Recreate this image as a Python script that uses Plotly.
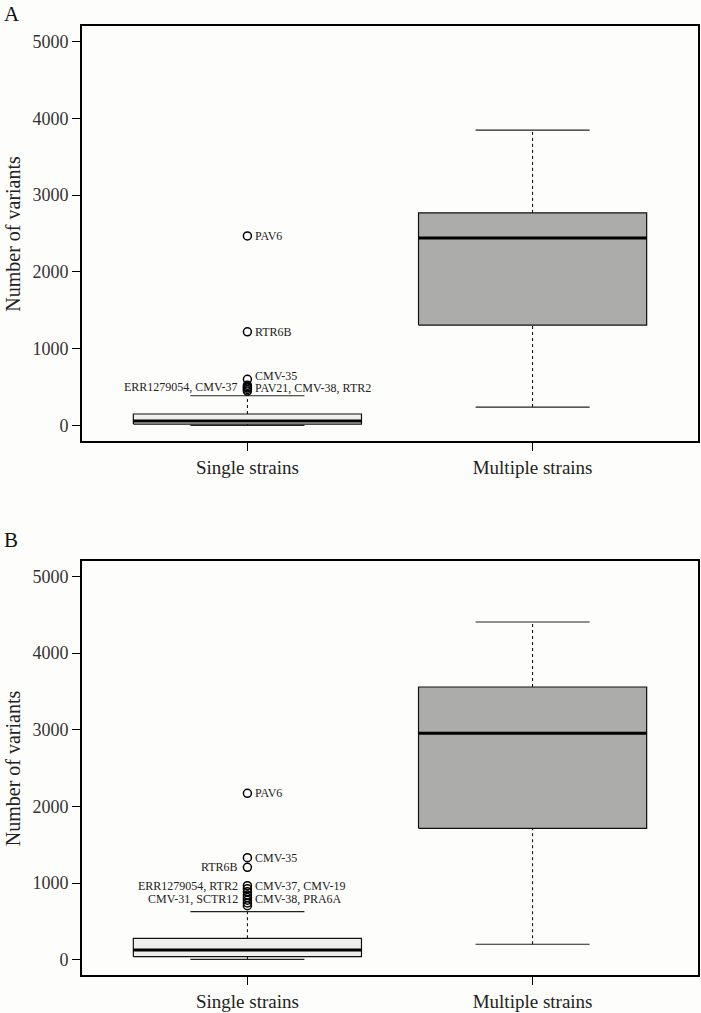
import plotly.graph_objects as go
from plotly.subplots import make_subplots

# ---------------- data ----------------
groups = ["Single strains", "Multiple strains"]
y_ticks = [0, 1000, 2000, 3000, 4000, 5000]

# Panel A box statistics (Single, Multiple)
A_lower = [3, 242]
A_q1 = [20, 1308]
A_median = [60, 2443]
A_q3 = [151, 2769]
A_upper = [389, 3844]
A_outliers = [2469, 1221, 602, 525, 505, 490, 470, 450]
A_label_text = ["PAV6", "RTR6B", "CMV-35", "ERR1279054, CMV-37", "PAV21, CMV-38, RTR2"]
A_label_y = [2469, 1221, 642, 507, 484]
A_label_side = ["right", "right", "right", "left", "right"]

# Panel B box statistics (Single, Multiple)
B_lower = [5, 201]
B_q1 = [39, 1714]
B_median = [127, 2953]
B_q3 = [279, 3557]
B_upper = [626, 4405]
B_outliers = [2170, 1330, 1205, 965, 925, 885, 845, 810, 775, 740, 705]
B_label_text = ["PAV6", "CMV-35", "RTR6B", "ERR1279054, RTR2", "CMV-37, CMV-19",
                "CMV-31, SCTR12", "CMV-38, PRA6A"]
B_label_y = [2170, 1330, 1205, 962, 962, 795, 795]
B_label_side = ["right", "right", "left", "left", "right", "left", "right"]

panel_letters = ["A", "B"]

# ---------------- style ----------------
FONT = "'Liberation Serif', 'Times New Roman', serif"
BG = "#fdfdfb"
FILLS = ["#efefed", "#acacaa"]
BOX_HALF = 0.4
CAP_HALF = 0.2

fig = make_subplots(rows=2, cols=1, vertical_spacing=0.1265)


def add_panel(row, lower, q1, med, q3, upper, outliers, ltxt, ly, lside):
    for i in range(len(groups)):
        c = i + 1
        # whiskers (dashed)
        fig.add_trace(go.Scatter(x=[c, c], y=[q3[i], upper[i]], mode="lines",
                                 line=dict(color="black", width=1, dash="3px,3px"),
                                 hoverinfo="skip", showlegend=False), row=row, col=1)
        fig.add_trace(go.Scatter(x=[c, c], y=[lower[i], q1[i]], mode="lines",
                                 line=dict(color="black", width=1, dash="3px,3px"),
                                 hoverinfo="skip", showlegend=False), row=row, col=1)
        # caps
        for v in (lower[i], upper[i]):
            fig.add_trace(go.Scatter(x=[c - CAP_HALF, c + CAP_HALF], y=[v, v], mode="lines",
                                     line=dict(color="#222222", width=1.2),
                                     hoverinfo="skip", showlegend=False), row=row, col=1)
        # box
        fig.add_trace(go.Scatter(
            x=[c - BOX_HALF, c + BOX_HALF, c + BOX_HALF, c - BOX_HALF, c - BOX_HALF],
            y=[q1[i], q1[i], q3[i], q3[i], q1[i]],
            mode="lines", fill="toself", fillcolor=FILLS[i],
            line=dict(color="#111111", width=1.2),
            hoverinfo="skip", showlegend=False), row=row, col=1)
        # median
        fig.add_trace(go.Scatter(x=[c - BOX_HALF, c + BOX_HALF], y=[med[i], med[i]],
                                 mode="lines", line=dict(color="black", width=3),
                                 hoverinfo="skip", showlegend=False), row=row, col=1)
    # outliers (single strains group)
    fig.add_trace(go.Scatter(x=[1] * len(outliers), y=outliers, mode="markers",
                             marker=dict(symbol="circle-open", size=8, color="black",
                                         line=dict(width=1.5, color="black")),
                             hoverinfo="skip", showlegend=False), row=row, col=1)
    xref = "x" if row == 1 else "x2"
    yref = "y" if row == 1 else "y2"
    for t, yv, s in zip(ltxt, ly, lside):
        fig.add_annotation(x=1, y=yv, xref=xref, yref=yref, text=t, showarrow=False,
                           xanchor="left" if s == "right" else "right",
                           xshift=7 if s == "right" else -8, borderpad=0,
                           font=dict(family=FONT, size=12, color="#222222"))


add_panel(1, A_lower, A_q1, A_median, A_q3, A_upper, A_outliers,
          A_label_text, A_label_y, A_label_side)
add_panel(2, B_lower, B_q1, B_median, B_q3, B_upper, B_outliers,
          B_label_text, B_label_y, B_label_side)

axis_common = dict(showline=True, mirror=True, linewidth=2, linecolor="black",
                   showgrid=False, zeroline=False, ticks="outside", ticklen=8,
                   tickwidth=1, tickcolor="black")

for r in (1, 2):
    fig.update_xaxes(range=[0.42, 2.58], tickvals=[1, 2], ticktext=groups,
                     tickfont=dict(family=FONT, size=19, color="#222222"),
                     row=r, col=1, **axis_common)
    fig.update_yaxes(range=[-200, 5200], tickvals=y_ticks,
                     ticktext=[str(v) for v in y_ticks],
                     tickfont=dict(family=FONT, size=18, color="#333333"),
                     row=r, col=1, **axis_common)

fig.update_layout(yaxis=dict(domain=[0.5627, 1.0]), yaxis2=dict(domain=[0.0, 0.4362]))

# y-axis titles and panel letters
for r, yref in ((1, "y domain"), (2, "y2 domain")):
    fig.add_annotation(x=-0.1117, xref="paper", y=0.5, yref=yref, text="Number of variants",
                       textangle=-90, showarrow=False, xanchor="center", yanchor="middle",
                       font=dict(family=FONT, size=20, color="#222222"))
fig.add_annotation(x=-0.13, xref="paper", y=1.0127, yref="paper", text=panel_letters[0],
                   showarrow=False, xanchor="left", yanchor="middle",
                   font=dict(family=FONT, size=21, color="#111111"))
fig.add_annotation(x=-0.13, xref="paper", y=0.4584, yref="paper", text=panel_letters[1],
                   showarrow=False, xanchor="left", yanchor="middle",
                   font=dict(family=FONT, size=21, color="#111111"))

fig.update_layout(width=701, height=1013, margin=dict(l=82, r=1, t=26, b=38),
                  paper_bgcolor=BG, plot_bgcolor=BG, showlegend=False)

fig.write_html("out.html",
               config={"displayModeBar": False},
               post_script="document.body.style.margin='0';"
                           "document.body.style.overflow='hidden';")
